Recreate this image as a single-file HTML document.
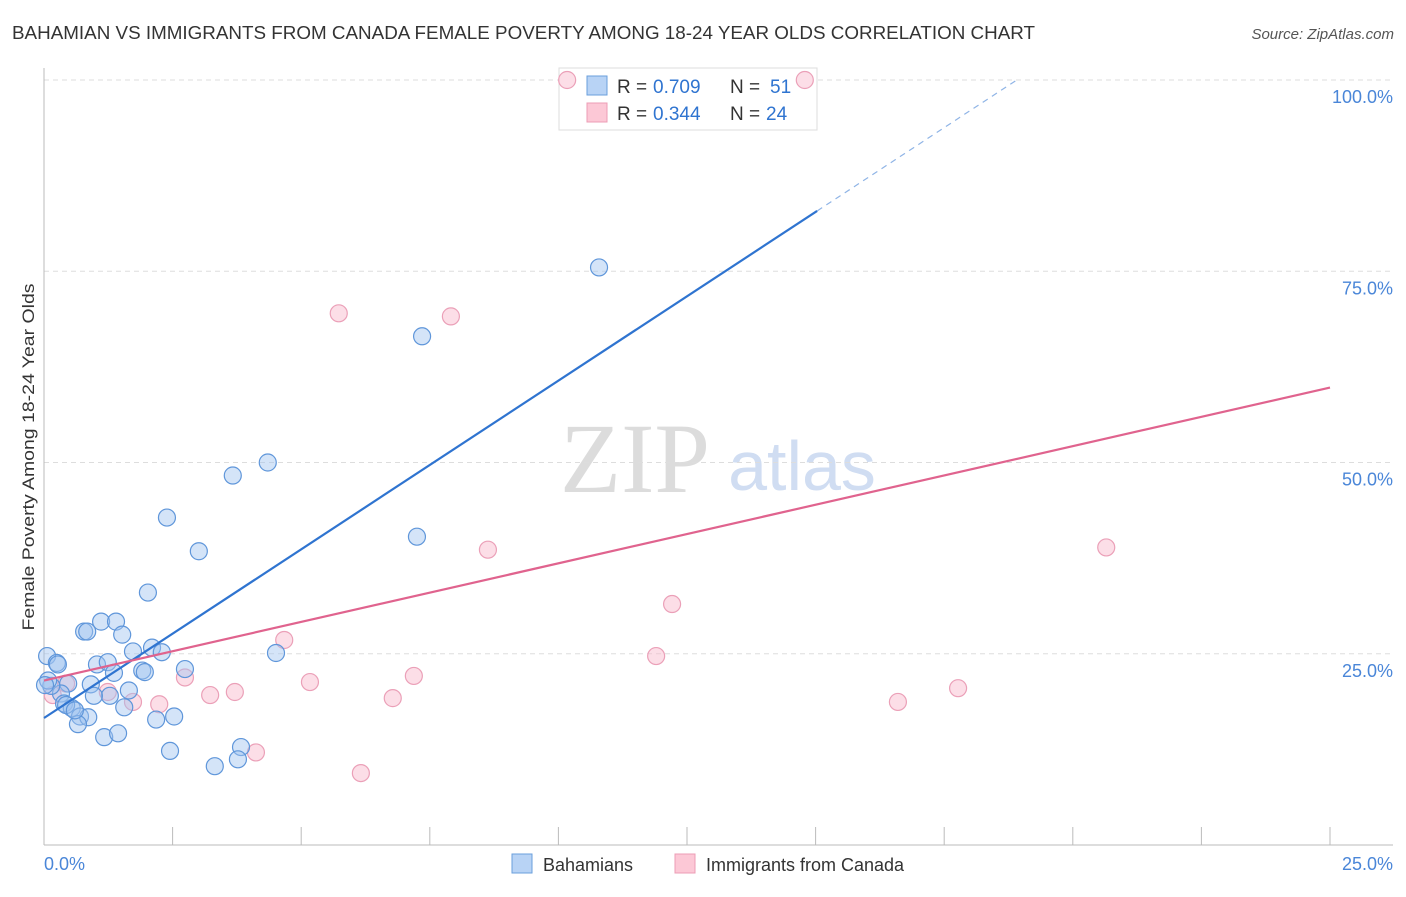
<!DOCTYPE html>
<html><head><meta charset="utf-8"><style>
body{margin:0;background:#fff;font-family:"Liberation Sans",sans-serif}
</style></head><body>
<svg id="c" width="1406" height="892" xmlns="http://www.w3.org/2000/svg" font-family="Liberation Sans, sans-serif">
<text x="12" y="39" font-size="18" fill="#333" textLength="1023" lengthAdjust="spacingAndGlyphs">BAHAMIAN VS IMMIGRANTS FROM CANADA FEMALE POVERTY AMONG 18-24 YEAR OLDS CORRELATION CHART</text>
<text x="1394" y="39" font-size="15" fill="#555" font-style="italic" text-anchor="end">Source: ZipAtlas.com</text>
<g>
<text x="635" y="492" font-size="100" fill="#dcdcdc" style="font-family:'Liberation Serif',serif" text-anchor="middle">ZIP</text>
<text x="802" y="490" font-size="70" fill="#d0ddf2" text-anchor="middle">atlas</text>
</g>
<g id="grid"></g>
<g id="axes"></g>
<g>
<rect x="559" y="68" width="258" height="62" fill="#fff" stroke="#ddd"/>
<rect x="587" y="76" width="20" height="19" fill="#b8d3f5" stroke="#6a9fdc"/>
<rect x="587" y="103" width="20" height="19" fill="#fcc8d6" stroke="#ec9db5"/>
<text x="617" y="93" font-size="19" fill="#333">R =</text>
<text x="653" y="93" font-size="19" fill="#2f74d0">0.709</text>
<text x="730" y="93" font-size="19" fill="#333">N =</text>
<text x="770" y="93" font-size="19" fill="#2f74d0">51</text>
<text x="617" y="120" font-size="19" fill="#333">R =</text>
<text x="653" y="120" font-size="19" fill="#2f74d0">0.344</text>
<text x="730" y="120" font-size="19" fill="#333">N =</text>
<text x="766" y="120" font-size="19" fill="#2f74d0">24</text>
</g>
<g id="pts"></g>
<g id="lines"></g>
<text x="34" y="457" font-size="17" fill="#333" text-anchor="middle" textLength="347" lengthAdjust="spacingAndGlyphs" transform="rotate(-90 34 457)">Female Poverty Among 18-24 Year Olds</text>
<text x="44" y="870" font-size="18" fill="#4a86d8">0.0%</text>
<text x="1393" y="870" font-size="18" fill="#4a86d8" text-anchor="end">25.0%</text>
<g>
<rect x="512" y="854" width="20" height="19" fill="#b8d3f5" stroke="#6a9fdc"/>
<text x="543" y="871" font-size="18" fill="#333">Bahamians</text>
<rect x="675" y="854" width="20" height="19" fill="#fcc8d6" stroke="#ec9db5"/>
<text x="706" y="871" font-size="18" fill="#333">Immigrants from Canada</text>
</g>
</svg>
<script>
const yTicks=[25,50,75,100];
const yTickLabels=["25.0%","50.0%","75.0%","100.0%"];
const xTicks=[0,2.5,5,7.5,10,12.5,15,17.5,20,22.5,25];
const blueX=[10.79,7.35,4.35,3.67,2.39,3.01,7.25,2.02,1.11,1.40,0.78,0.84,1.52,2.10,1.73,2.29,0.06,0.25,0.27,1.03,1.24,1.91,1.96,2.74,4.51,0.47,0.91,1.65,1.28,0.33,0.14,0.39,0.54,0.97,1.56,2.18,2.53,0.70,0.86,0.66,1.17,1.44,3.83,3.77,2.45,3.32,0.08,0.43,0.60,1.36,0.02];
const blueY=[75.5,66.5,50.0,48.3,42.8,38.4,40.3,33.0,29.2,29.2,27.9,27.9,27.5,25.8,25.3,25.2,24.7,23.8,23.6,23.6,23.9,22.8,22.6,23.0,25.1,21.1,21.0,20.2,19.5,19.8,20.8,18.5,17.9,19.5,18.0,16.4,16.8,16.8,16.7,15.8,14.1,14.6,12.8,11.2,12.3,10.3,21.5,18.3,17.6,22.5,20.9];
const pinkX=[10.17,14.79,5.73,7.91,8.63,20.65,12.21,11.90,4.67,2.74,5.17,7.19,6.78,3.23,3.71,2.24,1.73,1.24,0.43,0.17,16.60,17.77,4.12,6.16];
const pinkY=[100,100,69.5,69.1,38.6,38.9,31.5,24.7,26.8,21.9,21.3,22.1,19.2,19.6,20.0,18.4,18.7,20.0,21.1,19.6,18.7,20.5,12.1,9.4];
const blueLine=[16.6,4.41];
const pinkLine=[21.5,1.532];
const NS="http://www.w3.org/2000/svg";
const X0=44,X1=1330,Y0=845,Y100=80;
const sx=v=>X0+(X1-X0)*v/25;
const sy=v=>Y0-(Y0-Y100)*v/100;
function mk(tag,attrs,parent){const e=document.createElementNS(NS,tag);for(const k in attrs)e.setAttribute(k,attrs[k]);parent.appendChild(e);return e;}
const grid=document.getElementById('grid'),axes=document.getElementById('axes'),pts=document.getElementById('pts'),lines=document.getElementById('lines');
yTicks.forEach((t,i)=>{
 const l=mk('line',{x1:X0,x2:1393,y1:sy(t),y2:sy(t),stroke:'#ddd','stroke-dasharray':'5,4'},grid);
 
 
 const tx=mk('text',{x:1393,y:sy(t)+23,'font-size':18,fill:'#4a86d8','text-anchor':'end'},axes);
 tx.textContent=yTickLabels[i];
 
 
});
mk('line',{x1:X0,x2:X0,y1:68,y2:Y0,stroke:'#bbb'},axes);
mk('line',{x1:X0,x2:1393,y1:Y0,y2:Y0,stroke:'#bbb'},axes);
xTicks.forEach(t=>{
 const l=mk('line',{x1:sx(t),x2:sx(t),y1:Y0,y2:Y0-18,stroke:'#bbb'},axes);
 
 
});
pinkX.forEach((x,i)=>{
 const c=mk('circle',{cx:sx(x),cy:sy(pinkY[i]),r:8.5,fill:'rgba(248,182,202,0.45)',stroke:'#eba0b8','stroke-width':1.2},pts);
 
 
});
blueX.forEach((x,i)=>{
 const c=mk('circle',{cx:sx(x),cy:sy(blueY[i]),r:8.5,fill:'rgba(160,196,240,0.45)',stroke:'#5f96da','stroke-width':1.2},pts);
 
 
});
const bEnd=15.03, bDash=(100-blueLine[0])/blueLine[1];
let l=mk('line',{x1:sx(0),y1:sy(blueLine[0]),x2:sx(bEnd),y2:sy(blueLine[0]+blueLine[1]*bEnd),stroke:'#2f74d0','stroke-width':2.2},lines);


l=mk('line',{x1:sx(bEnd),y1:sy(blueLine[0]+blueLine[1]*bEnd),x2:sx(bDash),y2:sy(100),stroke:'#8fb4e6','stroke-width':1.2,'stroke-dasharray':'6,5'},lines);


l=mk('line',{x1:sx(0),y1:sy(pinkLine[0]),x2:sx(25),y2:sy(pinkLine[0]+pinkLine[1]*25),stroke:'#e0638e','stroke-width':2.2},lines);


</script>
</body></html>
